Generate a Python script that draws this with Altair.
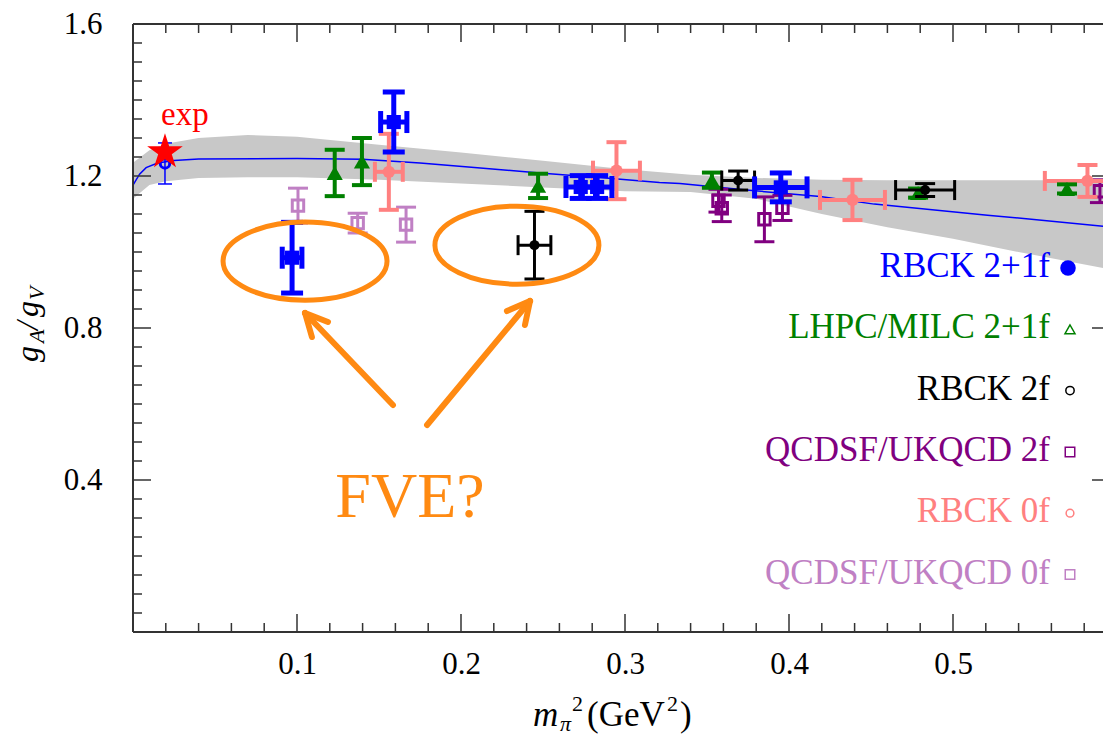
import altair as alt
import pandas as pd

# ---------------- data ----------------
# RBCK 2+1f (blue)
rbck21_x = [0.097, 0.159, 0.273, 0.283, 0.395]
rbck21_y = [0.985, 1.342, 1.171, 1.171, 1.170]
rbck21_ey = [0.093, 0.079, 0.030, 0.030, 0.038]
rbck21_ex = [0.006, 0.008, 0.009, 0.009, 0.016]

# LHPC/MILC 2+1f (green)
lhpc_x = [0.123, 0.1396, 0.247, 0.353, 0.4787, 0.5695]
lhpc_y = [1.208, 1.238, 1.174, 1.189, 1.155, 1.166]
lhpc_ey = [0.061, 0.062, 0.032, 0.020, 0.012, 0.012]

# RBCK 2f (black)
rbck2_x = [0.2448, 0.369, 0.483]
rbck2_y = [1.018, 1.188, 1.163]
rbck2_ey = [0.089, 0.025, 0.017]
rbck2_ex = [0.010, 0.010, 0.018]

# QCDSF/UKQCD 2f (purple)
qcd2_x = [0.357, 0.359, 0.385, 0.396, 0.5896]
qcd2_y = [1.135, 1.115, 1.086, 1.116, 1.160]
qcd2_ey = [0.030, 0.035, 0.059, 0.033, 0.030]

# RBCK 0f (pink)
rbck0_x = [0.156, 0.2948, 0.4387, 0.582]
rbck0_y = [1.211, 1.214, 1.137, 1.187]
rbck0_ey = [0.100, 0.075, 0.053, 0.042]
rbck0_ex = [0.0085, 0.0143, 0.0198, 0.026]

# QCDSF/UKQCD 0f (lavender)
qcd0_x = [0.1006, 0.137, 0.1665]
qcd0_y = [1.122, 1.076, 1.072]
qcd0_ey = [0.046, 0.026, 0.046]

# experiment + extrapolated fit value
exp_x = [0.0195]
exp_y = [1.263]
fit_x = [0.0195]
fit_y = [1.233]
fit_ey = [0.054]

# fit curve and error band
curve_x = [0.0, 0.004, 0.008, 0.015, 0.025, 0.04, 0.10, 0.14, 0.175, 0.21, 0.248, 0.29,
           0.321, 0.3335, 0.374, 0.419, 0.452, 0.521, 0.5915]
curve_y = [1.176, 1.205, 1.222, 1.234, 1.241, 1.245, 1.246, 1.244, 1.234, 1.222, 1.208, 1.194,
           1.183, 1.180, 1.163, 1.146, 1.126, 1.097, 1.068]
band_x = [0.0, 0.01, 0.02, 0.04, 0.07, 0.10, 0.15, 0.20, 0.25, 0.30, 0.34, 0.38, 0.42,
          0.46, 0.50, 0.54, 0.5915]
band_hi = [1.235, 1.268, 1.285, 1.300, 1.308, 1.303, 1.282, 1.262, 1.240, 1.218, 1.203, 1.195,
           1.190, 1.189, 1.189, 1.189, 1.189]
band_lo = [1.140, 1.176, 1.186, 1.195, 1.197, 1.197, 1.190, 1.180, 1.170, 1.160, 1.158, 1.140,
           1.100, 1.065, 1.035, 1.000, 0.958]

# FVE annotation: ellipse centres and arrows (tail -> tip, plus arrow-head wings)
ell_x = [0.1049, 0.2341]
ell_y = [0.976, 1.018]
arr_x = [0.1585, 0.1049, 0.1049, 0.1793, 0.2421, 0.2421]
arr_y = [0.5974, 0.8395, 0.8395, 0.5447, 0.8711, 0.8711]
arr_x2 = [0.1049, 0.1189, 0.1091, 0.2421, 0.2280, 0.2390]
arr_y2 = [0.8395, 0.8158, 0.7763, 0.8711, 0.8447, 0.8079]

# axes
x_major = [0.1, 0.2, 0.3, 0.4, 0.5]
x_minor = [0.02, 0.04, 0.06, 0.08, 0.12, 0.14, 0.16, 0.18, 0.22, 0.24, 0.26, 0.28,
           0.32, 0.34, 0.36, 0.38, 0.42, 0.44, 0.46, 0.48, 0.52, 0.54, 0.56, 0.58]
y_major = [0.4, 0.8, 1.2]
y_minor = [0.05, 0.1, 0.15, 0.2, 0.25, 0.3, 0.35, 0.45, 0.5, 0.55, 0.6, 0.65, 0.7, 0.75,
           0.85, 0.9, 0.95, 1.0, 1.05, 1.1, 1.15, 1.25, 1.3, 1.35, 1.4, 1.45, 1.5, 1.55]
y_labels = [0.4, 0.8, 1.2, 1.6]

legend_labels = ["RBCK 2+1f", "LHPC/MILC 2+1f", "RBCK 2f", "QCDSF/UKQCD 2f", "RBCK 0f",
                 "QCDSF/UKQCD 0f"]

# ---------------- style ----------------
BLUE, GREEN, BLACK = "#0000ff", "#008000", "#000000"
PURPLE, PINK, LAV = "#800080", "#ff8080", "#c080c4"
ORANGE, RED, GRAY = "#ff8a12", "#ff0000", "#c8c8c8"
FRAME = "#333333"
FONT = "Liberation Serif"

W, H = 970, 608
XMAX = 970 / 1640
xs = alt.Scale(domain=[0, XMAX], nice=False, zero=False)
ys = alt.Scale(domain=[0, 1.6], nice=False, zero=False)

xaxis = alt.Axis(values=x_major, format=".1f", labelFont=FONT, labelFontSize=31,
                 labelColor="black", ticks=False, domain=False, grid=False, orient="bottom",
                 labelPadding=17, title=None, labelFlush=False, labelOverlap=False)
yaxis = alt.Axis(values=y_labels, format=".1f", labelFont=FONT, labelFontSize=31,
                 labelColor="black", ticks=False, domain=False, grid=False, orient="left",
                 labelPadding=31, title=None, labelFlush=False, labelOverlap=False)


def X(f):
    return alt.X(f, type="quantitative", scale=xs, axis=xaxis)


def Y(f):
    return alt.Y(f, type="quantitative", scale=ys, axis=yaxis)


dummy = pd.DataFrame({"a": [0]})
layers = []

# band and curve
band_df = pd.DataFrame({"x": band_x, "lo": band_lo, "hi": band_hi})
layers.append(alt.Chart(band_df).mark_area(color=GRAY, opacity=1, orient="vertical")
              .encode(x=X("x"), y=Y("lo"), y2=alt.Y2("hi")))
curve_df = pd.DataFrame({"x": curve_x, "y": curve_y})
layers.append(alt.Chart(curve_df).mark_line(color=BLUE, strokeWidth=1.5)
              .encode(x=X("x"), y=Y("y")))


def series(xv, yv, ey, ex, color, shape, size, filled, sw=4, cap=20):
    df = pd.DataFrame({
        "x": xv, "y": yv,
        "ylo": [a - b for a, b in zip(yv, ey)],
        "yhi": [a + b for a, b in zip(yv, ey)],
    })
    if ex is not None:
        df["xlo"] = [a - b for a, b in zip(xv, ex)]
        df["xhi"] = [a + b for a, b in zip(xv, ex)]
    base = alt.Chart(df)
    out = [
        base.mark_rule(color=color, strokeWidth=sw).encode(x=X("x"), y=Y("ylo"), y2=alt.Y2("yhi")),
        base.mark_tick(color=color, orient="horizontal", size=cap, thickness=sw, opacity=1)
        .encode(x=X("x"), y=Y("ylo")),
        base.mark_tick(color=color, orient="horizontal", size=cap, thickness=sw, opacity=1)
        .encode(x=X("x"), y=Y("yhi")),
    ]
    if ex is not None:
        out += [
            base.mark_rule(color=color, strokeWidth=sw).encode(x=X("xlo"), x2=alt.X2("xhi"), y=Y("y")),
            base.mark_tick(color=color, orient="vertical", size=cap, thickness=sw, opacity=1)
            .encode(x=X("xlo"), y=Y("y")),
            base.mark_tick(color=color, orient="vertical", size=cap, thickness=sw, opacity=1)
            .encode(x=X("xhi"), y=Y("y")),
        ]
    if filled:
        out.append(base.mark_point(shape=shape, size=size, filled=True, color=color, opacity=1)
                   .encode(x=X("x"), y=Y("y")))
    else:
        out.append(base.mark_point(shape=shape, size=size, filled=False, color=color, opacity=1,
                                   strokeWidth=3).encode(x=X("x"), y=Y("y")))
    return out


layers += series(qcd0_x, qcd0_y, qcd0_ey, None, LAV, "square", 130, False, sw=3)
layers += series(qcd2_x, qcd2_y, qcd2_ey, None, PURPLE, "square", 130, False, sw=3)
layers += series(rbck0_x, rbck0_y, rbck0_ey, rbck0_ex, PINK, "circle", 150, True)
layers += series(lhpc_x, lhpc_y, lhpc_ey, None, GREEN, "triangle-up", 260, True)
layers += series(rbck2_x, rbck2_y, rbck2_ey, rbck2_ex, BLACK, "circle", 100, True, sw=3)
layers += series(rbck21_x, rbck21_y, rbck21_ey, rbck21_ex, BLUE, "square", 200, True, sw=5, cap=22)
layers += series(fit_x, fit_y, fit_ey, None, BLUE, "circle", 90, False, sw=1.5, cap=14)

# experimental point (five-pointed star drawn as a unit SVG path)
STAR = ("M0,-1L0.2245,-0.309L0.951,-0.309L0.3633,0.118L0.588,0.809L0,0.382"
        "L-0.588,0.809L-0.3633,0.118L-0.951,-0.309L-0.2245,-0.309Z")
exp_df = pd.DataFrame({"x": exp_x, "y": exp_y})
layers.append(alt.Chart(exp_df).mark_point(shape=STAR, size=1400, filled=True, color=RED,
                                           opacity=1).encode(x=X("x"), y=Y("y")))
layers.append(alt.Chart(dummy).mark_text(text="exp", font=FONT, fontSize=33, color=RED,
                                         align="left", baseline="alphabetic")
              .encode(x=alt.value(28), y=alt.value(101)))

# FVE annotation
ELLIPSE = "M-1,0A1,0.476,0,1,0,1,0A1,0.476,0,1,0,-1,0Z"
ell_df = pd.DataFrame({"x": ell_x, "y": ell_y})
layers.append(alt.Chart(ell_df).mark_point(shape=ELLIPSE, size=164 * 164, filled=False,
                                           color=ORANGE, strokeWidth=5, opacity=1)
              .encode(x=X("x"), y=Y("y")))
arr_df = pd.DataFrame({"x": arr_x, "y": arr_y, "x2": arr_x2, "y2": arr_y2})
layers.append(alt.Chart(arr_df).mark_rule(color=ORANGE, strokeWidth=6, strokeCap="round")
              .encode(x=X("x"), y=Y("y"), x2=alt.X2("x2"), y2=alt.Y2("y2")))
layers.append(alt.Chart(dummy).mark_text(text="FVE?", font=FONT, fontSize=64, color=ORANGE,
                                         align="center", baseline="alphabetic")
              .encode(x=alt.value(277), y=alt.value(493)))

# legend (text + glyph)
leg_colors = [BLUE, GREEN, BLACK, PURPLE, PINK, LAV]
leg_shapes = ["circle", "triangle-up", "circle", "square", "circle", "square"]
leg_filled = [True, False, False, False, False, False]
leg_sizes = [240, 100, 70, 90, 60, 90]
for i, lab in enumerate(legend_labels):
    py = 242 + i * 61.3
    layers.append(alt.Chart(dummy).mark_text(text=lab, font=FONT, fontSize=35, color=leg_colors[i],
                                             align="right", baseline="middle")
                  .encode(x=alt.value(917), y=alt.value(py)))
    gx = 935 if i == 0 else 937
    if leg_filled[i]:
        m = alt.Chart(dummy).mark_point(shape=leg_shapes[i], size=leg_sizes[i], filled=True,
                                        color=leg_colors[i], opacity=1)
    else:
        m = alt.Chart(dummy).mark_point(shape=leg_shapes[i], size=leg_sizes[i], filled=False,
                                        color=leg_colors[i], opacity=1, strokeWidth=1.5)
    layers.append(m.encode(x=alt.value(gx), y=alt.value(py + 2)))

# frame (left, top, bottom) and inward ticks
layers.append(alt.Chart(dummy).mark_rule(color=FRAME, strokeWidth=2)
              .encode(x=alt.value(0), y=alt.value(0), y2=alt.value(H)))
layers.append(alt.Chart(dummy).mark_rule(color=FRAME, strokeWidth=2)
              .encode(x=alt.value(0), x2=alt.value(W), y=alt.value(0)))
layers.append(alt.Chart(dummy).mark_rule(color=FRAME, strokeWidth=2)
              .encode(x=alt.value(0), x2=alt.value(W), y=alt.value(H)))

xmaj_df = pd.DataFrame({"v": x_major})
xmin_df = pd.DataFrame({"v": x_minor})
ymaj_df = pd.DataFrame({"v": y_major})
ymin_df = pd.DataFrame({"v": y_minor})
TK = dict(color=FRAME, strokeWidth=1.5)
layers += [
    alt.Chart(xmaj_df).mark_rule(**TK).encode(x=X("v"), y=alt.value(H), y2=alt.value(H - 18)),
    alt.Chart(xmin_df).mark_rule(**TK).encode(x=X("v"), y=alt.value(H), y2=alt.value(H - 9)),
    alt.Chart(xmaj_df).mark_rule(**TK).encode(x=X("v"), y=alt.value(0), y2=alt.value(18)),
    alt.Chart(xmin_df).mark_rule(**TK).encode(x=X("v"), y=alt.value(0), y2=alt.value(9)),
    alt.Chart(ymaj_df).mark_rule(**TK).encode(y=Y("v"), x=alt.value(0), x2=alt.value(18)),
    alt.Chart(ymin_df).mark_rule(**TK).encode(y=Y("v"), x=alt.value(0), x2=alt.value(9)),
    alt.Chart(ymaj_df).mark_rule(**TK).encode(y=Y("v"), x=alt.value(W - 11), x2=alt.value(W)),
]

# axis titles built from styled pieces
def txt(t, x, y, size, italic=False, angle=0):
    kw = dict(text=t, font=FONT, fontSize=size, color="black", align="left",
              baseline="alphabetic")
    if italic:
        kw["fontStyle"] = "italic"
    if angle:
        kw["angle"] = angle
    return alt.Chart(dummy).mark_text(**kw).encode(x=alt.value(x), y=alt.value(y))


layers += [
    txt("m", 400, 702, 35, italic=True),
    txt("π", 427, 707, 22, italic=True),
    txt("2", 439, 687, 22),
    txt("(GeV", 454, 702, 35),
    txt("2", 534, 687, 22),
    txt(")", 547, 702, 35),
    txt("g", -95, 338, 32, italic=True, angle=270),
    txt("A", -89, 319, 22, italic=True, angle=270),
    txt("/", -95, 306, 32, italic=True, angle=270),
    txt("g", -95, 293, 32, italic=True, angle=270),
    txt("V", -89, 276, 22, italic=True, angle=270),
]

chart = alt.layer(*layers).properties(
    width=W, height=H,
    autosize=alt.AutoSizeParams(type="none"),
    padding={"left": 133, "top": 24, "right": 0, "bottom": 105},
    background="white",
).configure_view(stroke=None)

chart.save("out.html", embed_options={"renderer": "svg", "actions": False})
